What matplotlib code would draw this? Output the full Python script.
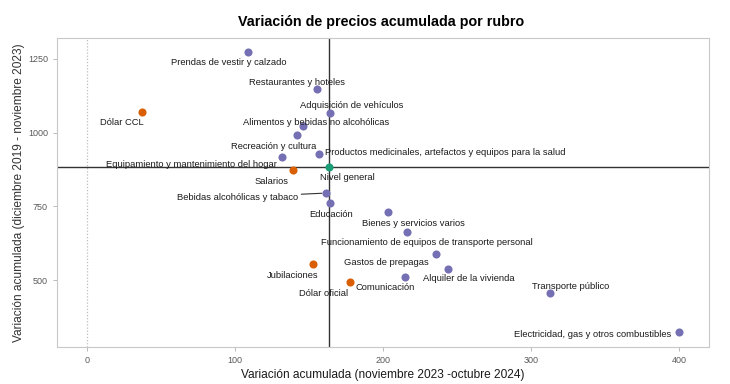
import matplotlib

matplotlib.use("Agg")
import matplotlib.pyplot as plt

plt.rcParams["font.family"] = ["Liberation Sans", "DejaVu Sans"]

# rubros del IPC: variación acumulada (nov 2023 - oct 2024) vs (dic 2019 - nov 2023)
rubros = [
    "Prendas de vestir y calzado",
    "Restaurantes y hoteles",
    "Adquisición de vehículos",
    "Alimentos y bebidas no alcohólicas",
    "Recreación y cultura",
    "Equipamiento y mantenimiento del hogar",
    "Productos medicinales, artefactos y equipos para la salud",
    "Bebidas alcohólicas y tabaco",
    "Educación",
    "Bienes y servicios varios",
    "Funcionamiento de equipos de transporte personal",
    "Gastos de prepagas",
    "Alquiler de la vivienda",
    "Comunicación",
    "Transporte público",
    "Electricidad, gas y otros combustibles",
]
rubros_x = [109.2, 155.4, 164.4, 146.2, 142.1, 131.8, 156.5, 161.5, 164.4,
            203.2, 216.0, 235.6, 243.7, 214.9, 313.0, 399.6]
rubros_y = [1274, 1148, 1066, 1022, 992, 918, 929, 795, 762,
            730, 663, 587, 538, 511, 455, 323]

otros = ["Dólar CCL", "Salarios", "Jubilaciones", "Dólar oficial"]
otros_x = [37.4, 139.4, 152.7, 177.5]
otros_y = [1071, 872, 553, 492]

nivel = "Nivel general"
nivel_x = 163.5
nivel_y = 885

# label offsets in pixels (dx, dy), roughly what ggrepel did
off_rubros = [(-20, -11), (-20, 7), (21, 8), (13, 4), (-24, -11), (-91, -8),
              (127, 1), (-88, -4), (1, -12), (26, -11), (20, -10), (-49, -8),
              (21, -10), (-20, -11), (20, 7), (-86, -2)]
off_otros = [(-20, -11), (-22, -11), (-20, -11), (-26, -11)]
off_nivel = (18, -11)

PURPLE = "#7570b3"
ORANGE = "#d95f02"
GREEN = "#1b9e77"
LABEL = "#1a1a1a"

fig = plt.figure(figsize=(7.3, 3.84), dpi=100)
ax = fig.add_axes([57 / 730, 37 / 384, 652 / 730, 309 / 384])

ax.axvline(0, color="#bdbdbd", linestyle=(0, (1, 1.5)), lw=0.9, zorder=1)
ax.axvline(nivel_x, color="#333333", lw=1.0, zorder=1)
ax.axhline(nivel_y, color="#333333", lw=1.0, zorder=1)

ax.scatter(rubros_x, rubros_y, s=34, color=PURPLE, zorder=3, linewidths=0)
ax.scatter(otros_x, otros_y, s=34, color=ORANGE, zorder=3, linewidths=0)
ax.scatter([nivel_x], [nivel_y], s=34, color=GREEN, zorder=3, linewidths=0)


def label(name, x, y, off, seg=False):
    kw = {}
    if seg:
        kw["arrowprops"] = dict(arrowstyle="-", color="#333333", lw=0.8,
                                shrinkA=0, shrinkB=3)
    ax.annotate(name, (x, y), xytext=off, textcoords="offset pixels",
                ha="center", va="center", fontsize=6.75, color=LABEL, zorder=4, **kw)


for name, x, y, off in zip(rubros, rubros_x, rubros_y, off_rubros):
    label(name, x, y, off, seg=name.startswith("Bebidas"))
for name, x, y, off in zip(otros, otros_x, otros_y, off_otros):
    label(name, x, y, off)
label(nivel, nivel_x, nivel_y, off_nivel)

ax.set_xlim(-20, 420)
ax.set_ylim(273, 1321)
ax.set_xticks([0, 100, 200, 300, 400])
ax.set_yticks([500, 750, 1000, 1250])
for s in ax.spines.values():
    s.set_color("#c8c8c8")
    s.set_linewidth(0.8)
ax.tick_params(colors="#b0b0b0", labelcolor="#5a5a5a", labelsize=6.5, length=3, width=0.6)

ax.set_xlabel("Variación acumulada (noviembre 2023 -octubre 2024)", fontsize=8.6,
              color="#1a1a1a", labelpad=3)
ax.set_ylabel("Variación acumulada (diciembre 2019 - noviembre 2023)", fontsize=8.6,
              color="#333333", labelpad=2)
fig.suptitle("Variación de precios acumulada por rubro", x=381 / 730, y=1 - 22 / 384,
             va="center", fontsize=10.3, fontweight="bold")

fig.savefig("out.png", dpi=100)
